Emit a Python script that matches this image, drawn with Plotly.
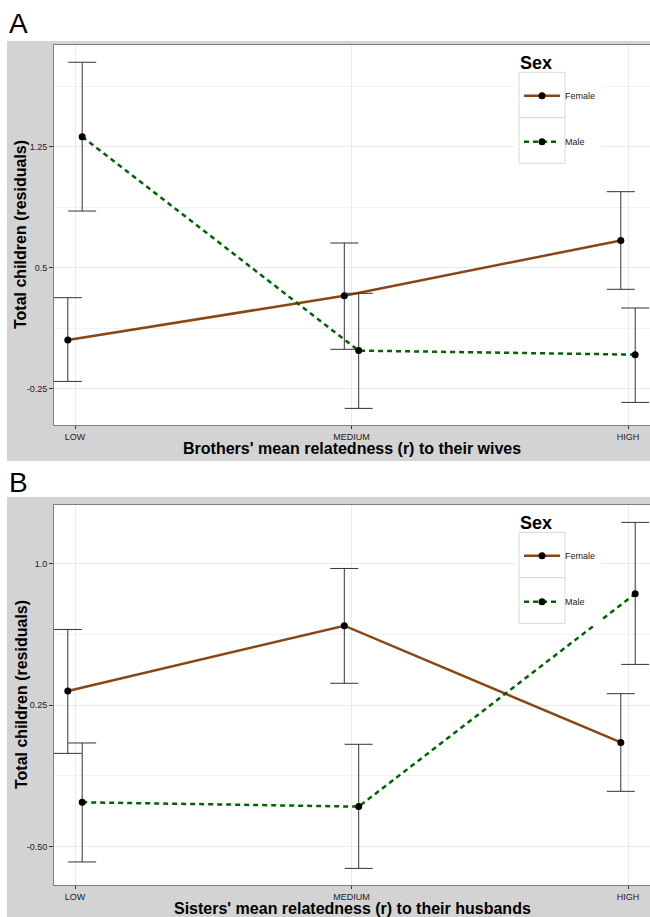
import plotly.graph_objects as go

# ---------------- data ----------------
categories = ["LOW", "MEDIUM", "HIGH"]
series_names = ["Female", "Male"]

a_female = [0.052, 0.326, 0.669]
a_female_hi = [0.314, 0.653, 0.971]
a_female_lo = [-0.205, -0.006, 0.366]
a_male = [1.312, -0.014, -0.039]
a_male_hi = [1.773, 0.341, 0.250]
a_male_lo = [0.851, -0.372, -0.335]

b_female = [0.324, 0.670, 0.052]
b_female_hi = [0.650, 0.973, 0.310]
b_female_lo = [-0.006, 0.365, -0.207]
b_male = [-0.265, -0.288, 0.839]
b_male_hi = [0.049, 0.042, 1.217]
b_male_lo = [-0.581, -0.615, 0.465]

a_yticks = [-0.25, 0.5, 1.25]
a_yticklabels = ["-0.25", "0.5", "1.25"]
a_yminor = [0.125, 0.875, 1.625]
b_yticks = [-0.5, 0.25, 1.0]
b_yticklabels = ["-0.50", "0.25", "1.0"]
b_yminor = [-0.125, 0.625]

a_xtitle = "Brothers' mean relatedness (r) to their wives"
b_xtitle = "Sisters' mean relatedness (r) to their husbands"
ytitle = "Total children (residuals)"

# ---------------- styles ----------------
W, H = 650, 917
ML, MR, MT, MB = 54, 0, 45, 32
PW, PH = W - ML - MR, H - MT - MB
FONT = "Liberation Sans, Arial, sans-serif"
SMALL = 9
SMALL_C = "#222222"
FEMALE_C = "#8B4513"
MALE_C = "#006400"
DODGE = 0.026
GREY_BG = "#D3D3D3"


def px_x(p):
    return (p - ML) / PW


def px_y(p):
    return (H - MB - p) / PH


idx = list(range(len(categories)))

fig = go.Figure()


def add_series(xa, ya, means, hi, lo, name, color, dash, offset, legend):
    fig.add_trace(go.Scatter(
        x=[i + offset for i in idx], y=means,
        mode="lines+markers", name=name,
        line=dict(color=color, width=2.5, dash=dash),
        marker=dict(color="black", size=7),
        error_y=dict(type="data", symmetric=False,
                     array=[h - m for h, m in zip(hi, means)],
                     arrayminus=[m - l for m, l in zip(means, lo)],
                     color="#333333", thickness=1, width=14),
        xaxis=xa, yaxis=ya, legend=legend,
    ))


add_series("x", "y", a_female, a_female_hi, a_female_lo, "Female", FEMALE_C, "solid", -DODGE, "legend")
add_series("x", "y", a_male, a_male_hi, a_male_lo, "Male", MALE_C, "5px,4px", DODGE, "legend2")
add_series("x2", "y2", b_female, b_female_hi, b_female_lo, "Female", FEMALE_C, "solid", -DODGE, "legend3")
add_series("x2", "y2", b_male, b_male_hi, b_male_lo, "Male", MALE_C, "5px,4px", DODGE, "legend4")

x_range = [-(75 - ML) / 276.5, -(75 - ML) / 276.5 + PW / 276.5]

xcommon = dict(range=x_range, tickmode="array", tickvals=idx, ticktext=categories,
               ticks="outside", ticklen=3, tickcolor="#333333", tickwidth=1,
               tickfont=dict(family=FONT, size=SMALL, color=SMALL_C),
               showgrid=True, gridcolor="#EBEBEB", gridwidth=1,
               showline=True, linecolor="#7F7F7F", linewidth=1, mirror=True,
               zeroline=False, fixedrange=True)
ycommon = dict(ticks="outside", ticklen=4, tickcolor="#333333", tickwidth=1,
               tickfont=dict(family=FONT, size=SMALL, color=SMALL_C),
               showgrid=True, gridcolor="#EBEBEB", gridwidth=1,
               showline=True, linecolor="#7F7F7F", linewidth=1,
               zeroline=False, fixedrange=True)

dom_a = [px_y(425), 1.0]
dom_b = [0.0, px_y(505)]

fig.update_layout(
    xaxis=dict(**xcommon, anchor="y"),
    yaxis=dict(**ycommon, domain=dom_a, anchor="x", range=[-0.475, 1.880],
               tickmode="array", tickvals=a_yticks, ticktext=a_yticklabels,
               minor=dict(tickmode="array", tickvals=a_yminor, showgrid=True,
                          gridcolor="#F2F2F2", ticks="")),
    xaxis2=dict(**xcommon, anchor="y2"),
    yaxis2=dict(**ycommon, domain=dom_b, anchor="x2", range=[-0.703, 1.309],
                tickmode="array", tickvals=b_yticks, ticktext=b_yticklabels,
                minor=dict(tickmode="array", tickvals=b_yminor, showgrid=True,
                           gridcolor="#F2F2F2", ticks="")),
)

legend_common = dict(xanchor="left", yanchor="middle", bgcolor="rgba(0,0,0,0)",
                     borderwidth=0, itemwidth=36,
                     font=dict(family=FONT, size=SMALL, color=SMALL_C))
fig.update_layout(
    legend=dict(**legend_common, x=px_x(519), y=px_y(95.7)),
    legend2=dict(**legend_common, x=px_x(519), y=px_y(141.7)),
    legend3=dict(**legend_common, x=px_x(519), y=px_y(95.7 + 460)),
    legend4=dict(**legend_common, x=px_x(519), y=px_y(141.7 + 460)),
)

shapes = []
for top, bot, ptop, pbot in ((41, 461, 45, 425), (497, 930, 505, 885)):
    # grey panel background
    shapes.append(dict(type="rect", xref="paper", yref="paper", layer="below",
                       x0=px_x(7), x1=px_x(660), y0=px_y(bot), y1=px_y(top),
                       fillcolor=GREY_BG, line=dict(width=0)))
    # white plotting area
    shapes.append(dict(type="rect", xref="paper", yref="paper", layer="below",
                       x0=0, x1=1.02, y0=px_y(pbot), y1=px_y(ptop),
                       fillcolor="white", line=dict(width=0)))
for off in (0, 460):
    # legend background
    shapes.append(dict(type="rect", xref="paper", yref="paper", layer="above",
                       x0=px_x(515), x1=px_x(602), y0=px_y(166 + off), y1=px_y(46 + off),
                       fillcolor="white", line=dict(width=0)))
    # key boxes
    for top, bot in ((72.3, 117.7), (117.7, 163.3)):
        shapes.append(dict(type="rect", xref="paper", yref="paper", layer="above",
                           x0=px_x(519), x1=px_x(565), y0=px_y(bot + off), y1=px_y(top + off),
                           fillcolor="white", line=dict(width=1, color="#D9D9D9")))

annotations = []
for off, lab, xt in ((0, "A", a_xtitle), (460, "B", b_xtitle)):
    annotations.append(dict(text=lab, xref="paper", yref="paper", showarrow=False,
                            x=px_x(7), y=px_y(23 + off), xanchor="left", yanchor="middle",
                            font=dict(family=FONT, size=28, color="black")))
    annotations.append(dict(text="Sex", xref="paper", yref="paper", showarrow=False,
                            x=px_x(518), y=px_y(63 + off), xanchor="left", yanchor="middle",
                            font=dict(family=FONT, size=18, color="black", weight="bold")))
    # axis titles
    annotations.append(dict(text=xt, xref="paper", yref="paper", showarrow=False,
                            x=px_x(352), y=px_y(449 + off), xanchor="center", yanchor="middle",
                            font=dict(family=FONT, size=16, color="black", weight="bold")))
    annotations.append(dict(text=ytitle, xref="paper", yref="paper", showarrow=False,
                            x=px_x(21), y=px_y(235 + off), xanchor="center", yanchor="middle",
                            textangle=-90,
                            font=dict(family=FONT, size=16, color="black", weight="bold")))

fig.update_layout(
    width=W, height=H,
    margin=dict(l=ML, r=MR, t=MT, b=MB),
    paper_bgcolor="white", plot_bgcolor="white",
    shapes=shapes, annotations=annotations,
    showlegend=True,
    font=dict(family=FONT),
)

fig.write_html("out.html",
               config={"displayModeBar": False},
               post_script="document.body.style.margin='0';document.body.style.overflow='hidden';")
